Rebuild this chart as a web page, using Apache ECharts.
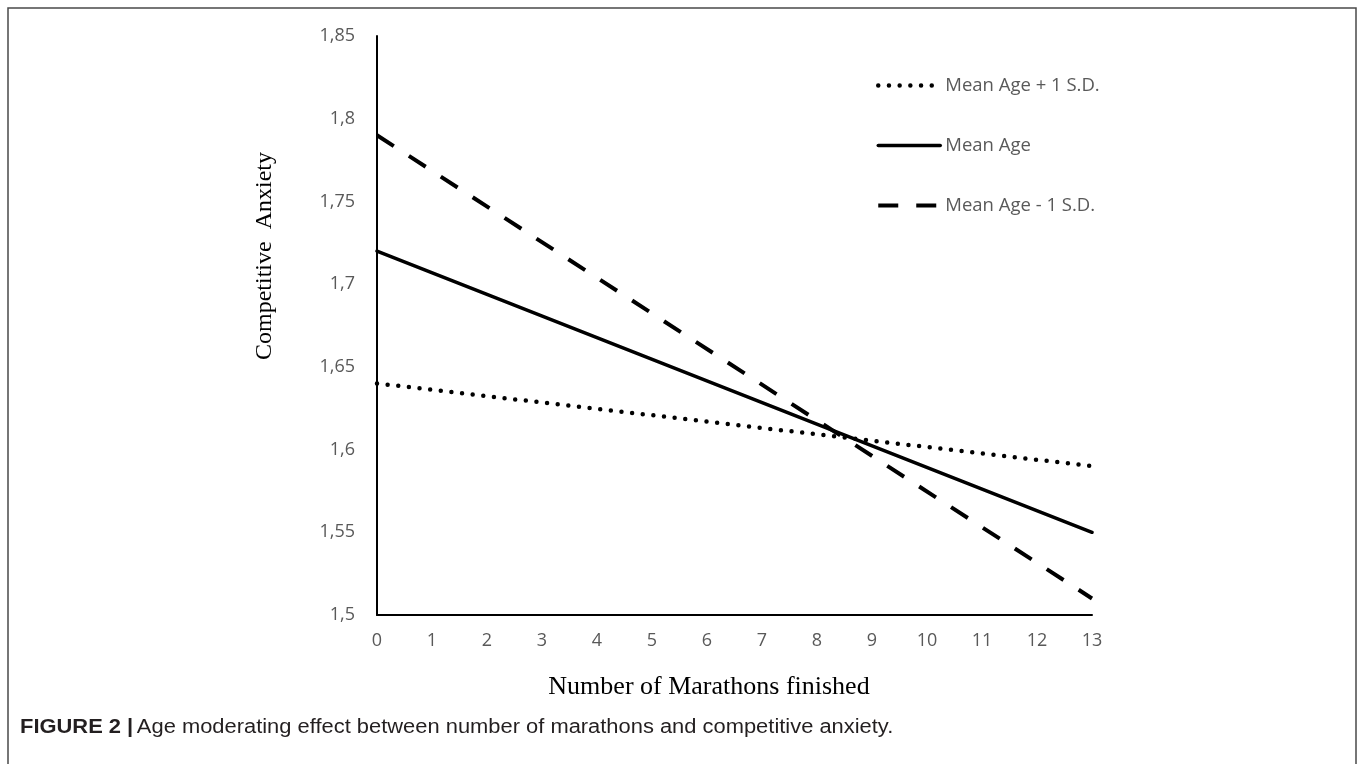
<!DOCTYPE html>
<html>
<head>
<meta charset="utf-8">
<script src="https://cdn.jsdelivr.net/npm/echarts@6/dist/echarts.min.js"></script>
<style>
html,body{margin:0;padding:0;background:#fff;}
#c{width:1358px;height:764px;}
</style>
</head>
<body>
<div id="c"></div>
<script>
// Data
const marathons = [0, 13];
const yTicks = [1.5, 1.55, 1.6, 1.65, 1.7, 1.75, 1.8, 1.85];
const seriesNames = ['Mean Age + 1 S.D.', 'Mean Age', 'Mean Age - 1 S.D.'];
const agePlus1SD = [1.64, 1.59];
const ageMean = [1.72, 1.55];
const ageMinus1SD = [1.79, 1.51];

const toPairs = (vals) => marathons.map((x, i) => [x, vals[i]]);

const chart = echarts.init(document.getElementById('c'));
const labelColor = '#595959';
const sansFont = '"Open Sans", "DejaVu Sans", sans-serif';
const serifFont = '"Liberation Serif", "Times New Roman", serif';

const styles = [
  { color: '#000', width: 4.5, type: [0, 10.7], cap: 'round' },
  { color: '#000', width: 3.5, type: 'solid', cap: 'round' },
  { color: '#000', width: 4, type: [20, 18], cap: 'butt' }
];

chart.setOption({
  backgroundColor: '#fff',
  animation: false,
  grid: { left: 377, right: 266, top: 36, bottom: 149 },
  legend: {
    orient: 'vertical',
    left: 871,
    top: 71,
    itemWidth: 62,
    itemHeight: 14,
    itemGap: 41,
    data: seriesNames.map((n, i) => ({
      name: n,
      itemStyle: { opacity: 0 },
      lineStyle: Object.assign({}, styles[i])
    })),
    textStyle: { color: labelColor, fontSize: 18.5, fontFamily: sansFont }
  },
  xAxis: {
    type: 'value',
    min: 0, max: 13, interval: 1,
    axisLine: { lineStyle: { color: '#000', width: 2 } },
    axisTick: { show: false },
    splitLine: { show: false },
    axisLabel: { color: labelColor, fontSize: 18, fontFamily: sansFont, margin: 17 }
  },
  yAxis: {
    type: 'value',
    min: 1.5, max: 1.85, interval: 0.05,
    axisLine: { show: true, lineStyle: { color: '#000', width: 2 } },
    axisTick: { show: false },
    splitLine: { show: false },
    axisLabel: {
      color: labelColor, fontSize: 18, fontFamily: sansFont, margin: 22,
      formatter: (v) => {
        const t = yTicks.find(k => Math.abs(k - v) < 1e-6);
        return String(t !== undefined ? t : +v.toFixed(2)).replace('.', ',');
      }
    }
  },
  series: [
    {
      name: seriesNames[0], type: 'line', data: toPairs(agePlus1SD),
      symbol: 'none', color: '#000', lineStyle: styles[0]
    },
    {
      name: seriesNames[1], type: 'line', data: toPairs(ageMean),
      symbol: 'none', color: '#000', lineStyle: styles[1]
    },
    {
      name: seriesNames[2], type: 'line', data: toPairs(ageMinus1SD),
      symbol: 'none', color: '#000', lineStyle: styles[2]
    }
  ],
  graphic: [
    {
      type: 'rect', silent: true,
      shape: { x: 8, y: 8, width: 1348, height: 800 },
      style: { fill: 'none', stroke: '#4a4a4a', lineWidth: 1.5 }
    },
    {
      type: 'text', silent: true,
      x: 265, y: 256, rotation: Math.PI / 2,
      style: {
        text: 'Competitive  Anxiety', font: '24px ' + serifFont,
        fill: '#000', align: 'center', verticalAlign: 'middle'
      }
    },
    {
      type: 'text', silent: true,
      x: 709, y: 687,
      style: {
        text: 'Number of Marathons finished', font: '26px ' + serifFont,
        fill: '#000', align: 'center', verticalAlign: 'middle'
      }
    },
    {
      type: 'text', silent: true,
      x: 20, y: 727, scaleX: 1.095,
      style: {
        text: '{b|FIGURE 2 |} {r|Age moderating effect between number of marathons and competitive anxiety.}',
        verticalAlign: 'middle',
        rich: {
          b: { font: 'bold 20px "Liberation Sans", Arial, sans-serif', fill: '#231f20' },
          r: { font: '20px "Liberation Sans", Arial, sans-serif', fill: '#231f20' }
        }
      }
    }
  ]
});
</script>
</body>
</html>
